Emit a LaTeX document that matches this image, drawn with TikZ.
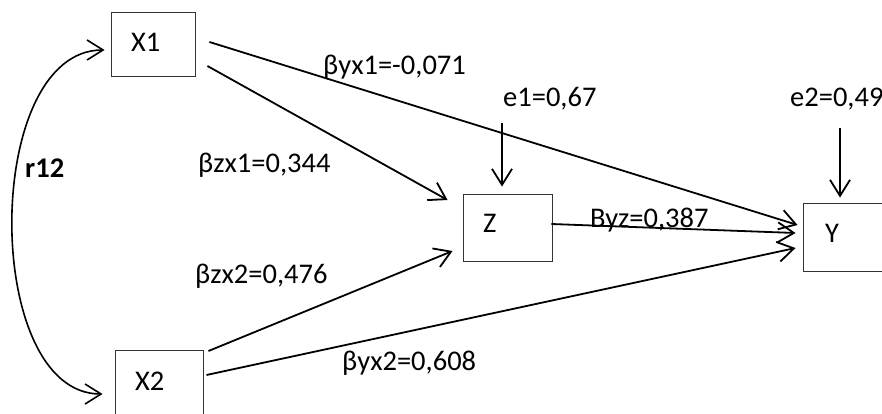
\documentclass[tikz,border=0pt]{standalone}
\usepackage{fontspec}
\setmainfont{Carlito}
\usetikzlibrary{arrows.meta,calc}
\begin{document}
\begin{tikzpicture}[x=1pt,y=-1pt,
  every node/.style={font=\fontsize{28.5}{33}\selectfont},
  varbox/.style={draw=black!80,line width=0.9pt,rectangle,inner sep=0pt},
  lbl/.style={anchor=base west,inner sep=0pt},
  path/.style={line width=1.8pt,-{Straight Barb[length=16pt,width=20pt,line width=1.8pt]}},
  corr/.style={line width=1.6pt,{Straight Barb[length=16pt,width=20pt,line width=1.6pt]}-{Straight Barb[length=16pt,width=20pt,line width=1.6pt]}}]
\useasboundingbox (0,0) rectangle (882,414);
\clip (0,0) rectangle (882,414);

% variable boxes
\node[varbox,minimum width=84pt,minimum height=64pt] (x1) at (153,44) {};
\node[varbox,minimum width=88pt,minimum height=66pt] (x2) at (159,383) {};
\node[varbox,minimum width=89pt,minimum height=67pt] (z)  at (507.5,227.5) {};
\node[varbox,minimum width=90pt,minimum height=68pt] (y)  at (848,237) {};

% box captions
\node[lbl] (x1t) at (131,52) {X1};
\node[lbl] (x2t) at (135,390) {X2};
\node[lbl] (zt)  at (483,232) {Z};
\node[lbl] (yt)  at (825,242) {Y};

% path coefficients and residuals
\node[lbl] (byx1) at (323,75) {βyx1=-0,071};
\node[lbl] (bzx1) at (198,172) {βzx1=0,344};
\node[lbl] (bzx2) at (195,283) {βzx2=0,476};
\node[lbl] (byx2) at (342,370) {βyx2=0,608};
\node[lbl] (byz)  at (590,227) {Byz=0,387};
\node[lbl] (e1)   at (503,107) {e1=0,67};
\node[lbl] (e2)   at (790,107) {e2=0,49};
\node[lbl,font=\fontsize{28.5}{33}\selectfont\bfseries] (r12) at (25,177) {r12};

% residual tails
\coordinate (e1tail) at (502,123);
\coordinate (e2tail) at (840,128);

% paths
\draw[path] ($(x1.east)+(14,-2)$) -- ($(y.west)+(-5,-12)$);
\draw[path] ($(x1.east)+(12,22)$) -- ($(z.west)+(-15,-27.5)$);
\draw[path] ($(z.east)+(-1,-3.5)$) -- ($(y.west)+(-7,-4)$);
\draw[path] ($(x2.east)+(5,-32)$) -- ($(z.west)+(-10,23.5)$);
\draw[path] ($(x2.east)+(3,-8)$) -- ($(y.west)+(-7,11)$);
\draw[path] (e1tail) -- ($(z.north)+(-5.5,-7)$);
\draw[path] (e2tail) -- ($(y.north)+(-8,-5)$);

% correlation between the exogenous variables
\draw[corr] ($(x1.west)+(-6,6)$) .. controls (-18,50) and (-18,394) .. ($(x2.west)+(-12,11)$);
\end{tikzpicture}
\end{document}
